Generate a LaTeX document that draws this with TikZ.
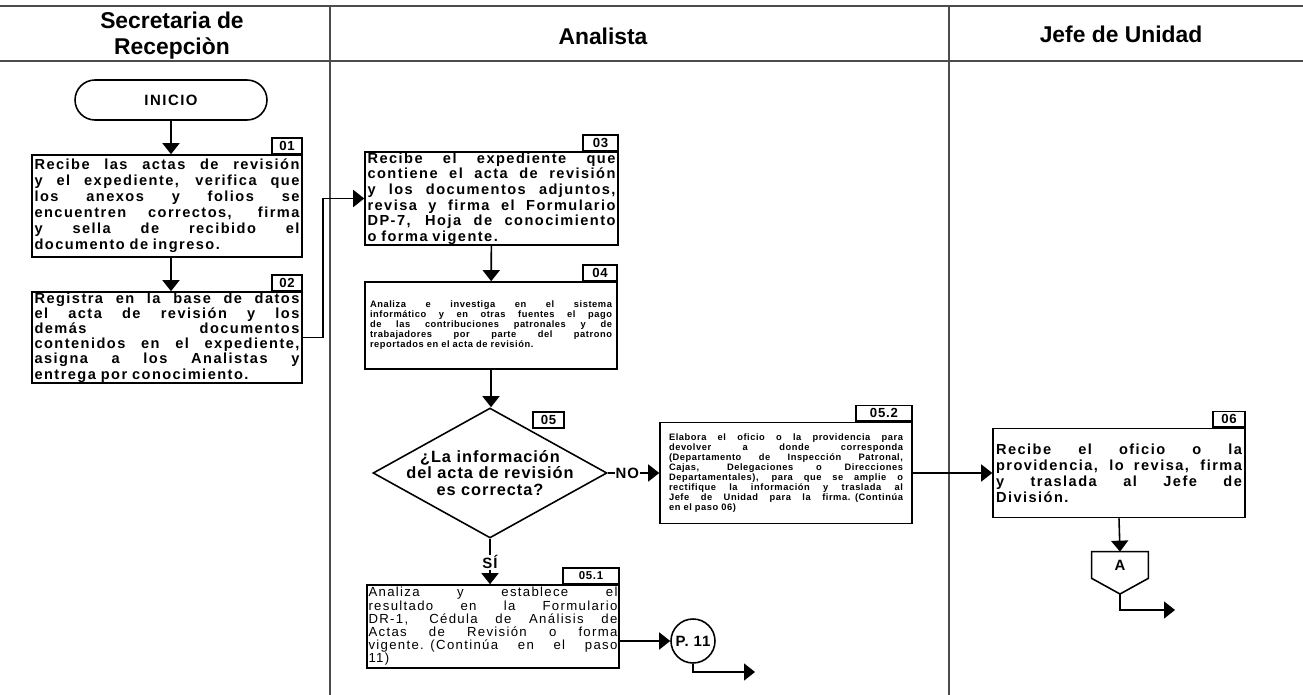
\documentclass[tikz,border=0pt]{standalone}
\usepackage{fontspec}
\setmainfont{Liberation Sans}
\newfontfamily\boxfont[LetterSpace=6]{Liberation Sans}
\newfontfamily\wideboxfont[LetterSpace=10]{Liberation Sans}
\usetikzlibrary{positioning,arrows.meta,shapes.geometric,calc}
\newlength{\jlw}
\newcommand{\jl}[1]{\makebox[\jlw][s]{\spaceskip=.3em plus 1fil\relax#1}}

\begin{document}
\begin{tikzpicture}[x=0.02cm, y=-0.02cm,
  lane/.style={draw=black!70, line width=0.6pt},
  hdr/.style={align=center, font=\fontsize{13}{14.8}\selectfont\bfseries},
  term/.style={draw, line width=0.9pt, rounded corners=0.4cm, minimum width=3.84cm, minimum height=0.8cm, font=\fontsize{8.5}{9}\wideboxfont\bfseries},
  proc/.style={draw, line width=0.9pt, inner sep=0pt, align=left, minimum width=5.04cm},
  tw/.style={text width=#1, /utils/exec={\global\jlw=#1\relax}},
  big/.style={font=\fontsize{8.3}{9.1}\wideboxfont\bfseries},
  small/.style={font=\fontsize{5.3}{5.7}\boxfont\bfseries},
  reg/.style={font=\fontsize{7.5}{7.5}\wideboxfont},
  num/.style={draw, line width=0.9pt, inner sep=0pt, minimum height=0.31cm, font=\fontsize{7.5}{8}\boxfont\bfseries},
  dec/.style={diamond, draw, line width=0.9pt, aspect=1.8, inner sep=-1.8pt, minimum width=4.68cm, minimum height=2.6cm, align=center, font=\fontsize{9.3}{9.2}\boxfont\bfseries},
  conn/.style={circle, draw, line width=0.9pt, minimum size=0.88cm, inner sep=0pt, font=\fontsize{8.5}{9}\boxfont\bfseries},
  tag/.style={fill=white, inner sep=0.6pt, font=\fontsize{8.5}{9}\boxfont\bfseries},
  flow/.style={line width=0.9pt, -{Triangle[length=0.22cm, width=0.34cm]}}]
\useasboundingbox (0,0) rectangle (1303,695);
\draw[lane] (0,6) -- (1303,6);
\draw[lane] (0,61) -- (1303,61);
\draw[lane] (330,6) -- (330,695);
\draw[lane] (949,6) -- (949,695);
\node[hdr] (hsec) at (172,36) {Secretaria de\\Recepciòn};
\node[hdr] (hana) at (603,36) {Analista};
\node[hdr] (hjef) at (1121,34) {Jefe de Unidad};
\node[term] (ini) at (171,100) {INICIO};
\node[proc, big, minimum width=5.4cm, minimum height=2.04cm, tw=5.3cm] (b01) at (167,206)
  {\jl{Recibe las actas de revisión}\\\jl{y el expediente, verifica que}\\\jl{los anexos y folios se}\\\jl{encuentren correctos, firma}\\\jl{y sella de recibido el}\\documento de ingreso.};
\node[num, minimum width=0.6cm, above left=0pt of b01.north east] (n01) {01};
\node[proc, big, font=\fontsize{8.3}{8.6}\wideboxfont\bfseries, minimum width=5.4cm, minimum height=1.82cm, tw=5.3cm] (b02) at (167,337.5)
  {\jl{Registra en la base de datos}\\\jl{el acta de revisión y los}\\\jl{demás documentos}\\\jl{contenidos en el expediente,}\\\jl{asigna a los Analistas y}\\entrega por conocimiento.};
\node[num, minimum width=0.6cm, above left=0pt of b02.north east] (n02) {02};
\node[proc, big, font=\fontsize{8.3}{8.9}\wideboxfont\bfseries, minimum width=5.06cm, minimum height=1.86cm, tw=4.96cm] (b03) at (491.5,198.5)
  {\jl{Recibe el expediente que}\\\jl{contiene el acta de revisión}\\\jl{y los documentos adjuntos,}\\\jl{revisa y firma el Formulario}\\\jl{DP-7, Hoja de conocimiento}\\o forma vigente.};
\node[num, minimum width=0.7cm, above left=0pt of b03.north east] (n03) {03};
\node[proc, small, minimum height=1.74cm, tw=4.84cm] (b04) at (491,325.5)
  {\jl{Analiza e investiga en el sistema}\\\jl{informático y en otras fuentes el pago}\\\jl{de las contribuciones patronales y de}\\\jl{trabajadores por parte del patrono}\\reportados en el acta de revisión.};
\node[num, minimum width=0.68cm, above left=0pt of b04.north east] (n04) {04};
\node[dec] (d05) at (490,473) {¿La información\\del acta de revisión\\es correcta?};
\node[num, minimum width=0.62cm] (n05) at (548.5,420) {05};
\node[proc, small, minimum height=2.02cm, tw=4.68cm] (b052) at (786,473)
  {\jl{Elabora el oficio o la providencia para}\\\jl{devolver a donde corresponda}\\\jl{(Departamento de Inspección Patronal,}\\\jl{Cajas, Delegaciones o Direcciones}\\\jl{Departamentales), para que se amplie o}\\\jl{rectifique la información y traslada al}\\\jl{Jefe de Unidad para la firma. (Continúa}\\en el paso 06)};
\node[num, minimum width=1.12cm, above left=0pt of b052.north east] (n052) {05.2};
\node[proc, reg, minimum height=1.66cm, tw=4.98cm] (b051) at (493,626.5)
  {\jl{Analiza y establece el}\\\jl{resultado en la Formulario}\\\jl{DR-1, Cédula de Análisis de}\\\jl{Actas de Revisión o forma}\\\jl{vigente. (Continúa en el paso}\\11)};
\node[num, minimum width=1.12cm, font=\fontsize{6.5}{7}\boxfont\bfseries, above left=0pt of b051.north east] (n051) {05.1};
\node[conn] (p11) at (693,641) {P. 11};
\node[proc, big, minimum height=1.78cm, tw=4.92cm] (b06) at (1119,473)
  {\jl{Recibe el oficio o la}\\\jl{providencia, lo revisa, firma}\\\jl{y traslada al Jefe de}\\División.};
\node[num, minimum width=0.64cm, above left=0pt of b06.north east] (n06) {06};
\node[minimum width=1.12cm, minimum height=0.52cm, inner sep=0pt, font=\fontsize{8.5}{9}\boxfont\bfseries] (offA) at (1120,565) {A};
\coordinate (offAtip) at (1120,594);
\draw[line width=0.9pt] (offA.north west) -- (offA.north east) -- (offA.south east) -- (offAtip) -- (offA.south west) -- cycle;
\coordinate (p11out) at (755,672);
\coordinate (aout) at (1175,610);
\draw[flow] (ini.south) -- (ini.south |- b01.north);
\draw[flow] (b01.south -| ini.south) -- (b02.north -| ini.south);
\draw[flow] (b02.east) -- ++(20,0) |- (b03.west);
\draw[flow] (b03) -- (b04);
\draw[flow] (b04.south) -- (b04.south |- d05.north);
\draw[flow] (d05.east) -- node[tag, pos=0.38] {NO} (d05.east -| b052.west);
\draw[flow] (d05.south) -- node[tag, pos=0.52] {SÍ} (d05.south |- b051.north);
\draw[flow] (p11.west -| b051.east) -- (p11.west);
\draw[flow] (p11.south) |- (p11out);
\draw[flow] (b052.east) -- (b06.west);
\draw[flow] (b06.south) -- (offA.north);
\draw[flow] (offAtip) |- (aout);
\end{tikzpicture}
\end{document}
